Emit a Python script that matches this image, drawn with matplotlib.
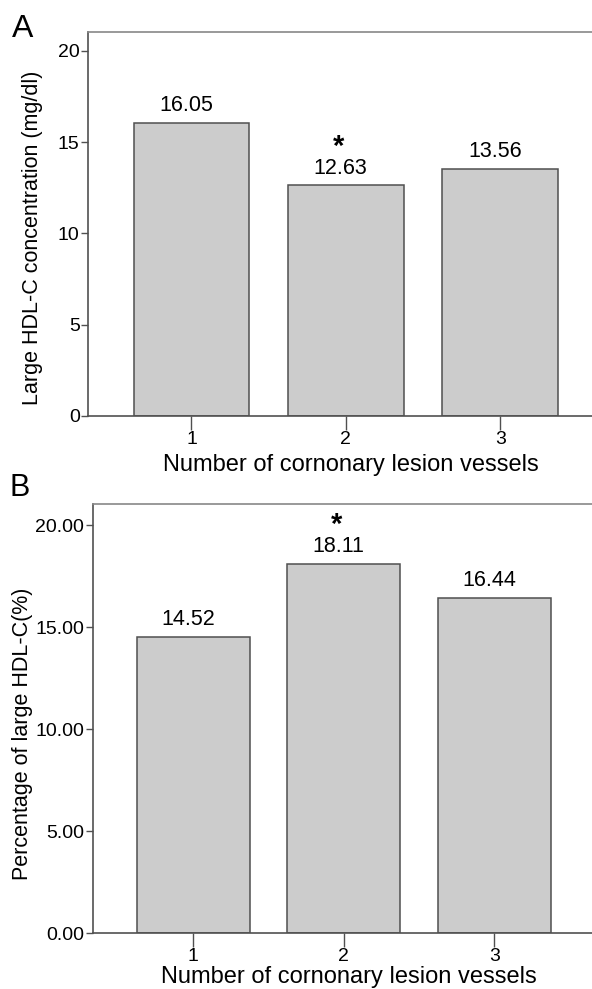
import matplotlib
matplotlib.use("Agg")
import matplotlib.pyplot as plt

plt.rcParams['font.family'] = ['Liberation Sans', 'DejaVu Sans']

# data
groups = [1, 2, 3]
large_hdl_conc = [16.05, 12.63, 13.56]      # panel A, mg/dl
large_hdl_pct = [14.52, 18.11, 16.44]       # panel B, %
signif = [False, True, False]               # asterisk marks

xlabel = "Number of cornonary lesion vessels"
ylabel_a = "Large HDL-C concentration (mg/dl)"
ylabel_b = "Percentage of large HDL-C(%)"
yticks_a = [0, 5, 10, 15, 20]
yticks_b = [0, 5, 10, 15, 20]

W, H = 592, 989
fig = plt.figure(figsize=(W / 100, H / 100), dpi=100)

edge = "#505050"
fill = "#cccccc"


def px_axes(left, top, right, bottom):
    return fig.add_axes([left / W, 1 - bottom / H, (right - left) / W, (bottom - top) / H])


def draw_panel(ax, values, yticks, fmt, ylabel, ylab_x, xlab_y):
    ax.bar(groups, values, width=0.75, color=fill, edgecolor=edge, linewidth=1.1, zorder=2)
    ax.set_xlim(0.33, 3.67)
    ax.set_ylim(0, 21.04)
    ax.set_xticks(groups)
    ax.set_yticks(yticks)
    ax.set_yticklabels([fmt.format(v) for v in yticks])
    ax.spines['right'].set_visible(False)
    for s in ['left', 'bottom', 'top']:
        ax.spines[s].set_color(edge)
        ax.spines[s].set_linewidth(1.2)
    ax.spines['top'].set_color("#888888")
    ax.tick_params(axis='y', direction='out', length=5, width=1, color=edge,
                   labelsize=14, pad=1)
    ax.tick_params(axis='x', direction='out', length=10, width=1, color=edge,
                   labelsize=14, pad=1)
    ax.set_ylabel(ylabel, fontsize=15.5)
    ax.yaxis.set_label_coords(ylab_x, 0.465)
    ax.set_xlabel(xlabel, fontsize=17)
    ax.xaxis.set_label_coords(0.51, xlab_y)
    for x, v, s in zip(groups, values, signif):
        ax.annotate(f"{v:.2f}", (x, v), xytext=(-4, 5), textcoords='offset points',
                    ha='center', va='bottom', fontsize=15.5)
        if s:
            ax.annotate("*", (x, v), xytext=(-5, 18), textcoords='offset points',
                        ha='center', va='bottom', fontsize=21, fontweight='bold')


ax_a = px_axes(88, 32, 88 + 3.34 * 154.4, 416)
draw_panel(ax_a, large_hdl_conc, yticks_a, "{:d}", ylabel_a, -0.087, -0.1)

ax_b = px_axes(92.5, 504, 92.5 + 3.33 * 151, 933)
draw_panel(ax_b, large_hdl_pct, yticks_b, "{:.2f}", ylabel_b, -0.118, -0.076)

fig.text(12 / W, 1 - 37 / H, "A", fontsize=23, ha='left', va='baseline')
fig.text(9 / W, 1 - 496 / H, "B", fontsize=22, ha='left', va='baseline')

fig.savefig("out.png", dpi=100)
